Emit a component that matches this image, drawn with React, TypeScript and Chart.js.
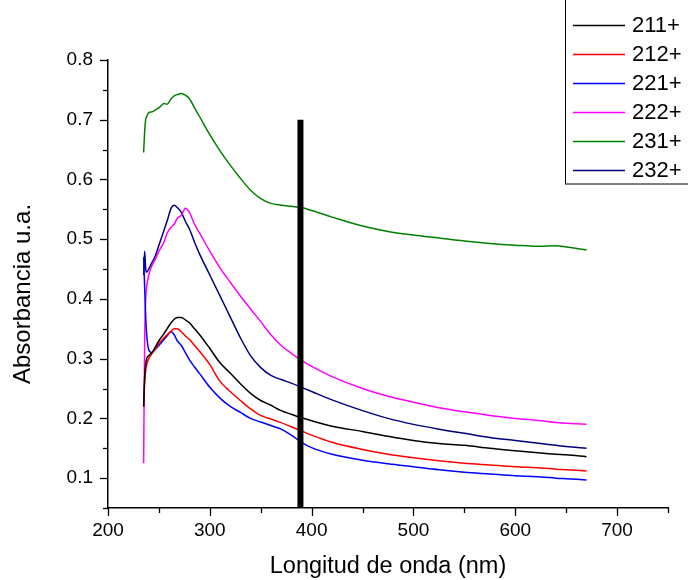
import React, { useEffect, useRef } from "react";
import { Chart, registerables } from "chart.js";
Chart.register(...registerables);

const wavelengths = [235, 236, 237, 238, 240, 243, 246, 250, 255, 258, 262, 265, 268, 272, 276, 280, 285, 290, 300, 310, 320, 330, 340, 350, 360, 370, 380, 390, 400, 420, 450, 475, 500, 525, 550, 575, 600, 625, 640, 650, 670];

const s211 = [0.22, 0.27, 0.29, 0.3, 0.305, 0.31, 0.318, 0.33, 0.342, 0.35, 0.36, 0.366, 0.369, 0.369, 0.365, 0.36, 0.35, 0.34, 0.317, 0.293, 0.276, 0.258, 0.242, 0.23, 0.222, 0.213, 0.207, 0.201, 0.196, 0.187, 0.178, 0.17, 0.163, 0.158, 0.155, 0.15, 0.146, 0.142, 0.14, 0.139, 0.136];
const s212 = [0.22, 0.26, 0.28, 0.29, 0.3, 0.308, 0.315, 0.325, 0.335, 0.34, 0.346, 0.35, 0.35, 0.345, 0.338, 0.332, 0.322, 0.312, 0.29, 0.262, 0.245, 0.23, 0.216, 0.205, 0.199, 0.193, 0.186, 0.179, 0.172, 0.16, 0.148, 0.14, 0.134, 0.129, 0.125, 0.122, 0.119, 0.117, 0.115, 0.114, 0.112];
const s221 = [0.47, 0.42, 0.37, 0.34, 0.315, 0.31, 0.315, 0.322, 0.332, 0.338, 0.345, 0.34, 0.33, 0.322, 0.31, 0.298, 0.286, 0.275, 0.252, 0.234, 0.22, 0.21, 0.2, 0.194, 0.188, 0.182, 0.172, 0.16, 0.151, 0.14, 0.13, 0.124, 0.119, 0.114, 0.11, 0.107, 0.104, 0.102, 0.1, 0.099, 0.097];
const s222 = [0.125, 0.33, 0.4, 0.42, 0.44, 0.455, 0.465, 0.48, 0.495, 0.51, 0.52, 0.525, 0.535, 0.54, 0.552, 0.545, 0.525, 0.51, 0.48, 0.452, 0.428, 0.405, 0.383, 0.362, 0.34, 0.322, 0.309, 0.297, 0.287, 0.27, 0.25, 0.237, 0.227, 0.218, 0.211, 0.205, 0.2, 0.196, 0.193, 0.192, 0.19];
const s231 = [0.645, 0.68, 0.7, 0.705, 0.712, 0.713, 0.716, 0.72, 0.727, 0.726, 0.735, 0.74, 0.742, 0.744, 0.741, 0.735, 0.72, 0.705, 0.675, 0.648, 0.624, 0.602, 0.582, 0.568, 0.56, 0.557, 0.555, 0.553, 0.548, 0.537, 0.522, 0.513, 0.507, 0.502, 0.497, 0.493, 0.49, 0.488, 0.489, 0.487, 0.482];
const s232 = [0.44, 0.48, 0.45, 0.445, 0.45, 0.46, 0.47, 0.49, 0.515, 0.53, 0.552, 0.557, 0.553, 0.545, 0.53, 0.517, 0.495, 0.475, 0.44, 0.405, 0.37, 0.335, 0.305, 0.285, 0.272, 0.265, 0.259, 0.252, 0.245, 0.231, 0.213, 0.2, 0.19, 0.182, 0.175, 0.168, 0.163, 0.158, 0.155, 0.153, 0.15];

const seriesLabels = ["211+", "212+", "221+", "222+", "231+", "232+"];
const seriesValues = [s211, s212, s221, s222, s231, s232];
const seriesColors = ["#000000", "#ff0000", "#0000ff", "#ff00ff", "#008000", "#000080"];

const markerX = [389, 389];
const markerY = [0.05, 0.7];

const xMin = 200, xMax = 750, xStep = 50;
const yMin = 0.05, yMax = 0.8, yStep = 0.05;
const xTitle = "Longitud de onda (nm)";
const yTitle = "Absorbancia u.a.";
const FONT = "'Liberation Sans', Arial, sans-serif";

const axisDecor = {
  id: "axisDecor",
  afterDraw(chart: any) {
    const ctx = chart.ctx;
    const xs = chart.scales.x, ys = chart.scales.y;
    const { left, right, bottom } = chart.chartArea;
    ctx.save();
    ctx.strokeStyle = "#000";
    ctx.lineWidth = 1.3;
    for (let v = xMin; v <= xMax + 0.001; v += xStep) {
      const px = Math.round(xs.getPixelForValue(v)) + 0.5;
      const len = v % 100 === 0 ? 8 : 5;
      ctx.beginPath(); ctx.moveTo(px, bottom); ctx.lineTo(px, bottom + len); ctx.stroke();
    }
    for (let i = 1; i <= 16; i++) {
      const v = i * yStep;
      const py = Math.round(ys.getPixelForValue(v)) + 0.5;
      const len = i % 2 === 0 ? 8 : 5;
      ctx.beginPath(); ctx.moveTo(left - len, py); ctx.lineTo(left, py); ctx.stroke();
    }
    // titles
    ctx.fillStyle = "#000";
    ctx.font = `23.5px ${FONT}`;
    ctx.textAlign = "center";
    ctx.textBaseline = "alphabetic";
    ctx.fillText(xTitle, (left + right) / 2, 573);
    ctx.save();
    ctx.font = `24px ${FONT}`;
    ctx.translate(30, 294);
    ctx.rotate(-Math.PI / 2);
    ctx.fillText(yTitle, 0, 0);
    ctx.restore();
    // legend
    ctx.lineWidth = 1;
    ctx.strokeStyle = "#000";
    ctx.strokeRect(565.5, -2, 140, 186);
    ctx.textAlign = "left";
    ctx.textBaseline = "middle";
    ctx.font = `22px ${FONT}`;
    seriesLabels.forEach((lab, i) => {
      const y = 25 + i * 29;
      ctx.strokeStyle = seriesColors[i];
      ctx.lineWidth = 1.3;
      ctx.beginPath(); ctx.moveTo(573, y + 0.5); ctx.lineTo(625, y + 0.5); ctx.stroke();
      ctx.fillStyle = "#000";
      ctx.fillText(lab, 632, y + 1);
    });
    ctx.restore();
  },
};

export default function App() {
  const ref = useRef<HTMLCanvasElement>(null);
  useEffect(() => {
    const datasets: any[] = seriesValues.map((vals, i) => ({
      label: seriesLabels[i],
      data: wavelengths.map((w, j) => ({ x: w, y: vals[j] })),
      borderColor: seriesColors[i],
      borderWidth: 1.5,
      pointRadius: 0,
      cubicInterpolationMode: "monotone",
      fill: false,
      order: 1,
    }));
    datasets.unshift({
      label: "marker",
      data: markerX.map((x, j) => ({ x, y: markerY[j] })),
      borderColor: "#000",
      borderWidth: 6,
      borderCapStyle: "butt",
      pointRadius: 0,
      fill: false,
      order: 0,
    });
    const chart = new Chart(ref.current!, {
      type: "line",
      data: { datasets },
      plugins: [axisDecor],
      options: {
        animation: false,
        responsive: false,
        devicePixelRatio: 1,
        layout: { padding: { top: 60, right: 20, left: 0, bottom: 0 } },
        plugins: { legend: { display: false }, tooltip: { enabled: false } },
        scales: {
          x: {
            type: "linear",
            min: xMin,
            max: xMax,
            afterFit: (s: any) => { s.height = 72; },
            grid: { display: false, drawTicks: false },
            border: { display: true, color: "#000", width: 1.5 },
            ticks: {
              stepSize: xStep,
              autoSkip: false,
              maxRotation: 0,
              padding: 11,
              color: "#000",
              font: { family: FONT, size: 19 },
              callback: (v: any) => (Number(v) % 100 === 0 ? String(v) : ""),
            },
          },
          y: {
            type: "linear",
            min: yMin,
            max: yMax,
            afterFit: (s: any) => { s.width = 108; },
            grid: { display: false, drawTicks: false },
            border: { display: true, color: "#000", width: 1.5 },
            ticks: {
              stepSize: yStep,
              autoSkip: false,
              padding: 15,
              color: "#000",
              font: { family: FONT, size: 19 },
              callback: (v: any) => {
                const n = Math.round(Number(v) * 100);
                return n % 10 === 0 ? (n / 100).toFixed(1) : "";
              },
            },
          },
        },
      },
    });
    return () => chart.destroy();
  }, []);
  return (
    <div style={{ position: "fixed", left: 0, top: 0, width: 688, height: 580, background: "#fff" }}>
      <canvas ref={ref} width={688} height={580} style={{ width: 688, height: 580 }} />
    </div>
  );
}
